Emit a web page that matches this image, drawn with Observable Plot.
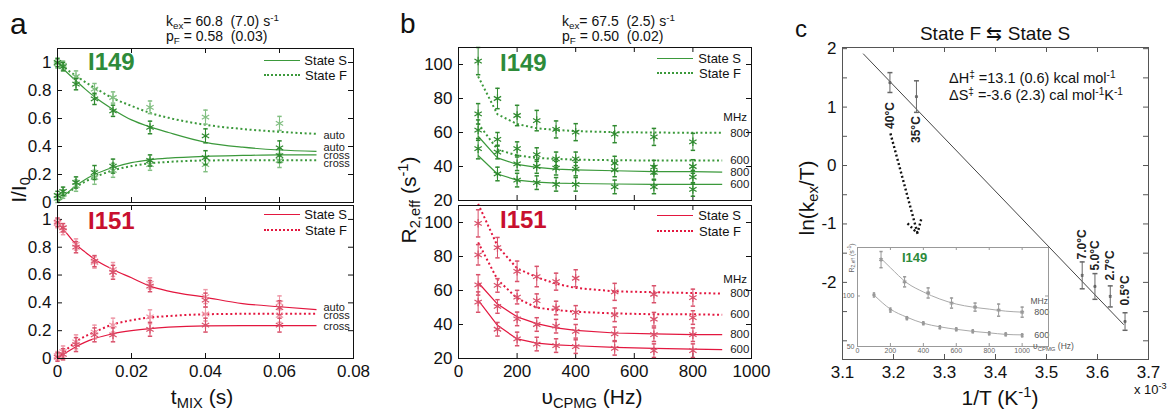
<!DOCTYPE html>
<html><head><meta charset="utf-8">
<script src="https://cdn.jsdelivr.net/npm/d3@7"></script>
<script src="https://cdn.jsdelivr.net/npm/@observablehq/plot@0.6"></script>
<style>
html,body{margin:0;padding:0;background:#fff;}
#root{position:relative;width:1174px;height:414px;overflow:hidden;font-family:"Liberation Sans",Arial,sans-serif;color:#111;background:#fff;}
#root svg{position:absolute;left:0;top:0;}
.t{position:absolute;white-space:nowrap;line-height:1;}
.t sub{font-size:0.7em;vertical-align:-0.3em;line-height:0;}
.t sup{font-size:0.7em;vertical-align:0.5em;line-height:0;}
.ln{position:absolute;height:0;}
</style></head><body><div id="root"></div>
<script>
// ---------------- DATA ----------------
// Panel a: mixing times (s)
const tMix = [0, 0.0015, 0.005, 0.01, 0.015, 0.025, 0.04, 0.06];
const i149AutoS  = [1.00, 0.97, 0.845, 0.74, 0.655, 0.536, 0.476, 0.39];
const i149AutoF  = [0.99, 0.98, 0.90, 0.81, 0.75, 0.68, 0.61, 0.565];
const i149CrossS = [0.05, 0.08, 0.143, 0.214, 0.26, 0.30, 0.32, 0.335];
const i149CrossF = [0.03, 0.06, 0.12, 0.18, 0.23, 0.27, 0.27, 0.30];
const i149ErrAuto  = [0.03, 0.03, 0.04, 0.04, 0.04, 0.045, 0.05, 0.05];
const i149ErrCross = [0.03, 0.03, 0.04, 0.05, 0.05, 0.04, 0.05, 0.05];
const i151AutoS  = [0.98, 0.94, 0.80, 0.70, 0.62, 0.52, 0.42, 0.365];
const i151AutoF  = [0.97, 0.92, 0.82, 0.69, 0.64, 0.54, 0.445, 0.40];
const i151CrossS = [0.01, 0.03, 0.10, 0.17, 0.17, 0.21, 0.24, 0.24];
const i151CrossF = [0.02, 0.05, 0.12, 0.19, 0.24, 0.30, 0.32, 0.31];
const i151ErrAuto  = [0.03, 0.03, 0.04, 0.04, 0.05, 0.04, 0.05, 0.05];
const i151ErrCross = [0.03, 0.04, 0.05, 0.05, 0.05, 0.05, 0.05, 0.05];
// Panel a: fitted curves
const tFit = [0, 0.0025, 0.005, 0.0075, 0.01, 0.015, 0.02, 0.025, 0.03, 0.04, 0.05, 0.06, 0.07];
const i149AutoSFit  = [1.00, 0.93, 0.87, 0.81, 0.755, 0.665, 0.59, 0.54, 0.50, 0.43, 0.395, 0.375, 0.365];
const i149AutoFFit  = [1.00, 0.95, 0.905, 0.86, 0.82, 0.745, 0.69, 0.64, 0.605, 0.555, 0.525, 0.505, 0.49];
const i149CrossSFit = [0, 0.065, 0.12, 0.165, 0.20, 0.25, 0.285, 0.305, 0.317, 0.33, 0.336, 0.34, 0.34];
const i149CrossFFit = [0, 0.06, 0.11, 0.15, 0.18, 0.23, 0.26, 0.28, 0.29, 0.30, 0.302, 0.302, 0.302];
const i151AutoSFit  = [0.98, 0.90, 0.82, 0.765, 0.714, 0.64, 0.58, 0.52, 0.485, 0.44, 0.395, 0.372, 0.352];
const i151CrossFFit = [0, 0.065, 0.12, 0.16, 0.19, 0.245, 0.275, 0.295, 0.305, 0.318, 0.321, 0.321, 0.321];
const i151CrossSFit = [0, 0.045, 0.085, 0.118, 0.143, 0.178, 0.20, 0.215, 0.225, 0.235, 0.237, 0.237, 0.236];
const aCurveLabels149 = [
  {text: "auto", y: 0.48}, {text: "auto", y: 0.39}, {text: "cross", y: 0.335}, {text: "cross", y: 0.28}
];
const aCurveLabels151 = [
  {text: "auto", y: 0.366}, {text: "cross", y: 0.307}, {text: "cross", y: 0.23}
];

// Panel b: CPMG frequencies (Hz)
const vCpmg = [67, 133, 200, 267, 333, 400, 533, 667, 800];
const vFit  = [67, 133, 200, 267, 333, 400, 533, 667, 800, 900];
const i149F800 = [102, 80, 70, 67, 61.8, 60.2, 59, 57.4, 54.5];
const i149F600 = [71, 56, 50.5, 47, 44.5, 44.5, 42, 39.6, 40];
const i149S800 = [61.4, 48.5, 41.6, 40, 39, 38.5, 38, 36.5, 33.7];
const i149S600 = [50.5, 35.6, 32, 30.5, 29.5, 29.5, 28, 28, 26.5];
const i149F800Fit = [93, 70.7, 65, 62.5, 61.5, 60.8, 60.2, 60, 59.8, 59.8];
const i149F600Fit = [65.3, 50, 46.5, 45, 44.5, 44, 43.7, 43.5, 43.5, 43.5];
const i149S800Fit = [57.8, 45.1, 41.2, 39.5, 38.5, 38, 37.5, 37, 37, 36.7];
const i149S600Fit = [46.5, 35.6, 32, 30.8, 30.2, 30, 29.7, 29.5, 29.5, 29.5];
const i151F800 = [99.5, 85.2, 71.3, 68.2, 65.2, 67.2, 59.2, 57.8, 55.8];
const i151F600 = [81, 63, 56.1, 54, 49.7, 47.1, 45.7, 43.1, 44.1];
const i151S800 = [63.3, 50.6, 43.3, 40, 39, 36, 34.5, 34, 34];
const i151S600 = [53.2, 37.2, 31.5, 28.5, 27.6, 27, 26, 24.6, 24.6];
const i151F800Fit = [111, 86.2, 73, 67.8, 64, 61.5, 59.5, 59, 58.5, 58.2];
const i151F600Fit = [88.3, 66.4, 55.4, 49.9, 48.5, 47.5, 46.5, 46, 46, 45.7];
const i151S800Fit = [64.7, 52, 44.5, 40.5, 38, 36.5, 35, 34.5, 34, 34];
const i151S600Fit = [54.4, 39.5, 31.5, 29, 28, 27.5, 26.5, 26, 25.5, 25.2];
const errF = [8, 6, 6, 6, 5, 5, 5, 5, 5];
const errS = [6, 4, 4, 4, 4, 4, 4, 4, 4];
const fieldLabels = ["800", "600", "800", "600"];

// Panel c: Eyring plot
const invT = [3.193, 3.245, 3.570, 3.595, 3.625, 3.654];      // x 10^-3 K^-1
const lnKexT = [1.42, 1.18, -1.88, -2.07, -2.24, -2.67];
const lnKexTErr = [0.17, 0.27, 0.23, 0.22, 0.18, 0.15];
const tempLabels = ["40°C", "35°C", "7.0°C", "5.0°C", "2.7°C", "0.5°C"];
const eyringFitX = [3.141, 3.651];
const eyringFitY = [1.91, -2.72];
const arrowFrom = [3.194, 0.55];
const arrowTo = [3.247, -1.16];
// Inset (I149 R2,eff at 40°C)
const insetV800 = [143, 286, 429, 571, 714, 857, 1000];
const insetR800 = [136, 114, 103, 93, 89, 86, 84];
const insetE800 = [8, 5, 5, 5, 4, 6, 5];
const insetV600 = [100, 200, 300, 400, 500, 600, 700, 800, 900, 1000];
const insetR600 = [101, 86, 78, 73, 69, 67, 65, 63, 62, 61];
const insetE600 = [2, 2, 1.5, 1.5, 1.5, 1.5, 1.5, 1.5, 1.5, 1.5];
const insetFit800V = [150, 200, 300, 400, 500, 600, 700, 800, 900, 1000];
const insetFit800 = [136, 128, 113, 104, 97, 92, 89, 87, 85, 84];
const insetFit600V = [100, 200, 300, 400, 500, 600, 700, 800, 900, 1000];
const insetFit600 = [101, 87, 79, 73, 69.5, 67, 65, 63.5, 62, 61.5];

// ---------------- STYLE ----------------
const FONT = '"Liberation Sans", Arial, sans-serif';
const G_LINE = "#3b993b", G_PT_S = "#2f8a2f", G_PT_F = "#82bf82", G_LAB = "#2e8b3a";
const R_LINE = "#e3173f", R_PT_S = "#d9506a", R_PT_F = "#ee97a6", R_LAB = "#c8102e";
const DOTS = "2,2.6";
const root = document.getElementById("root");

const capSymbol = {draw(ctx, size) { const r = Math.sqrt(size / Math.PI); ctx.moveTo(-r, 0); ctx.lineTo(r, 0); }};
const zip = (xs, ys, es) => xs.map((x, i) => ({x, y: ys[i], e: es ? es[i] : 0}));

function fit(xs, ys, color, dashed, curve, w) {
  return Plot.line(zip(xs, ys), {x: "x", y: "y", stroke: color, strokeWidth: dashed ? (w || 2) : (w || 1.2),
    strokeDasharray: dashed ? DOTS : null, strokeLinecap: "butt", curve: curve || "monotone-x"});
}
function pts(xs, ys, es, color, r, cap) {
  const d = zip(xs, ys, es);
  return [
    Plot.ruleX(d, {x: "x", y1: q => q.y - q.e, y2: q => q.y + q.e, stroke: color, strokeWidth: 1}),
    Plot.dot(d, {x: "x", y: q => q.y - q.e, symbol: capSymbol, r: cap || 2.2, fill: "none", stroke: color}),
    Plot.dot(d, {x: "x", y: q => q.y + q.e, symbol: capSymbol, r: cap || 2.2, fill: "none", stroke: color}),
    Plot.dot(d, {x: "x", y: "y", symbol: "asterisk", r: r || 4, fill: "none", stroke: color, strokeWidth: 1.2})
  ];
}

function panel(o) {
  const [L, T, R, B] = o.frame;
  const W = 1174, H = 414, fw = R - L, fh = B - T, tk = o.tick || 5;
  const col = o.axisColor || "#111";
  const xt = o.xMarks || o.xTicks, yt = o.yMarks || o.yTicks;
  const svg = Plot.plot({
    width: W, height: H,
    marginLeft: L, marginTop: T, marginRight: W - R, marginBottom: H - B,
    style: {background: "transparent", fontFamily: FONT, fontSize: (o.fontSize || 17) + "px", color: o.labelColor || "#111", overflow: "visible"},
    x: {domain: o.xDomain, ticks: o.xTicks, tickFormat: d => String(d), tickSize: 0, tickPadding: o.xPad ?? 6, label: null, axis: o.xLabels ? "bottom" : null},
    y: {domain: o.yDomain, ticks: o.yTicks, tickFormat: d => String(d), tickSize: 0, tickPadding: o.yPad ?? 6, label: null, axis: o.yLabels ? "left" : null},
    marks: [
      ...(o.bg ? [Plot.frame({fill: o.bg, stroke: null})] : []),
      Plot.tickX(xt, {x: d => d, insetTop: fh - tk, stroke: col}),
      Plot.tickX(xt, {x: d => d, insetBottom: fh - tk, stroke: col}),
      Plot.tickY(yt, {y: d => d, insetRight: fw - tk, stroke: col}),
      Plot.tickY(yt, {y: d => d, insetLeft: fw - tk, stroke: col}),
      ...o.marks,
      Plot.frame({stroke: col, strokeWidth: o.frameWidth || 1})
    ]
  });
  root.appendChild(svg);
}

function T(html, x, y, o = {}) {
  const d = document.createElement("div");
  d.className = "t";
  d.innerHTML = html;
  d.style.left = x + "px"; d.style.top = y + "px";
  d.style.fontSize = (o.size || 14) + "px";
  if (o.weight) d.style.fontWeight = o.weight;
  if (o.color) d.style.color = o.color;
  const ax = o.anchor === "c" ? "-50%" : o.anchor === "r" ? "-100%" : "0";
  d.style.transform = `translate(${ax},-50%)` + (o.rot ? ` rotate(${o.rot}deg)` : "");
  if (o.rot) d.style.transformOrigin = "50% 50%";
  root.appendChild(d);
}
function legendLine(x1, x2, y, color, dashed) {
  const d = document.createElement("div");
  d.className = "ln";
  d.style.left = x1 + "px"; d.style.top = y + "px"; d.style.width = (x2 - x1) + "px";
  d.style.borderTop = dashed ? `2px dotted ${color}` : `1.2px solid ${color}`;
  root.appendChild(d);
}

// ---------------- PANEL a ----------------
const aX = {xDomain: [0, 0.08], xTicks: [0, 0.02, 0.04, 0.06, 0.08], yDomain: [0, 1.1], yTicks: [0, 0.2, 0.4, 0.6, 0.8, 1]};
panel({...aX, frame: [57, 48, 353, 202], yLabels: true, xLabels: false, marks: [
  fit(tFit, i149AutoFFit, G_LINE, true), fit(tFit, i149CrossFFit, G_LINE, true),
  fit(tFit, i149AutoSFit, G_LINE, false), fit(tFit, i149CrossSFit, G_LINE, false),
  ...pts(tMix, i149AutoF, i149ErrAuto, G_PT_F), ...pts(tMix, i149CrossF, i149ErrCross, G_PT_F),
  ...pts(tMix, i149AutoS, i149ErrAuto, G_PT_S), ...pts(tMix, i149CrossS, i149ErrCross, G_PT_S),
  Plot.text(aCurveLabels149, {x: tFit[tFit.length - 1], y: "y", text: "text", dx: 7, textAnchor: "start", fontSize: 11, fill: "#222", lineHeight: 1})
]});
panel({...aX, frame: [57, 205, 353, 358], yLabels: true, xLabels: true, marks: [
  fit(tFit, i151CrossFFit, R_LINE, true),
  fit(tFit, i151AutoSFit, R_LINE, false), fit(tFit, i151CrossSFit, R_LINE, false),
  ...pts(tMix, i151AutoF, i151ErrAuto, R_PT_F), ...pts(tMix, i151CrossF, i151ErrCross, R_PT_F),
  ...pts(tMix, i151AutoS, i151ErrAuto, R_PT_S), ...pts(tMix, i151CrossS, i151ErrCross, R_PT_S),
  Plot.text(aCurveLabels151, {x: tFit[tFit.length - 1], y: "y", text: "text", dx: 7, textAnchor: "start", fontSize: 11, fill: "#222"})
]});

// ---------------- PANEL b ----------------
const bX = {xDomain: [0, 1000], xTicks: [0, 200, 400, 600, 800, 1000], yDomain: [20, 110], yTicks: [20, 40, 60, 80, 100]};
function bLabels(fits) {
  const d = fits.map((f, i) => ({y: f[f.length - 1], text: fieldLabels[i]}));
  return Plot.text(d, {x: vFit[vFit.length - 1], y: "y", text: "text", dx: 8, textAnchor: "start", fontSize: 11.5, fill: "#222"});
}
panel({...bX, frame: [458, 47, 751, 200], yLabels: true, xLabels: false, marks: [
  fit(vFit, i149F800Fit, G_LINE, true, "linear"), fit(vFit, i149F600Fit, G_LINE, true, "linear"),
  fit(vFit, i149S800Fit, G_LINE, false, "linear"), fit(vFit, i149S600Fit, G_LINE, false, "linear"),
  ...pts(vCpmg, i149F800, errF, G_PT_S), ...pts(vCpmg, i149F600, errS, G_PT_S),
  ...pts(vCpmg, i149S800, errS, G_PT_S), ...pts(vCpmg, i149S600, errS, G_PT_S),
  bLabels([i149F800Fit, i149F600Fit, i149S800Fit, i149S600Fit])
]});
panel({...bX, frame: [458, 205, 751, 358], yLabels: true, xLabels: true, marks: [
  fit(vFit, i151F800Fit, R_LINE, true, "linear"), fit(vFit, i151F600Fit, R_LINE, true, "linear"),
  fit(vFit, i151S800Fit, R_LINE, false, "linear"), fit(vFit, i151S600Fit, R_LINE, false, "linear"),
  ...pts(vCpmg, i151F800, errF, R_PT_S), ...pts(vCpmg, i151F600, errS, R_PT_S),
  ...pts(vCpmg, i151S800, errS, R_PT_S), ...pts(vCpmg, i151S600, errS, R_PT_S),
  bLabels([i151F800Fit, i151F600Fit, i151S800Fit, i151S600Fit])
]});

// ---------------- PANEL c ----------------
const eyr = zip(invT, lnKexT, lnKexTErr).map((d, i) => ({...d, label: tempLabels[i]}));
panel({frame: [842, 47, 1148, 359], xDomain: [3.1, 3.7], xTicks: [3.1, 3.2, 3.3, 3.4, 3.5, 3.6, 3.7],
  yDomain: [-3.32, 2.02], yTicks: [-2, -1, 0, 1, 2], yMarks: [-3, -2.5, -2, -1.5, -1, -0.5, 0, 0.5, 1, 1.5, 2],
  xLabels: true, yLabels: true, axisColor: "#555", labelColor: "#111", marks: [
  Plot.line(zip(eyringFitX, eyringFitY), {x: "x", y: "y", stroke: "#444", strokeWidth: 1}),
  ...pts(invT, lnKexT, lnKexTErr, "#666", 1.5, 2.5),
  Plot.text(eyr, {filter: d => d.y > 0, x: "x", y: "y", text: "label", rotate: -90, dy: 33, fontSize: 12, fontWeight: "bold", fill: "#222"}),
  Plot.text(eyr, {filter: d => d.y < 0, x: "x", y: "y", text: "label", rotate: -90, dy: -31, fontSize: 12, fontWeight: "bold", fill: "#222"}),
  Plot.arrow([{a: arrowFrom, b: arrowTo}], {x1: d => d.a[0], y1: d => d.a[1], x2: d => d.b[0], y2: d => d.b[1],
    stroke: "#111", strokeWidth: 2.4, strokeDasharray: "2,2.4", strokeLinecap: "butt", headLength: 9})
]});
// inset
panel({frame: [857, 247, 1048, 346], xDomain: [0, 1160], xTicks: [0, 200, 400, 600, 800, 1000],
  yDomain: [50, 148], yTicks: [50, 100], xLabels: true, yLabels: true, fontSize: 7, xPad: 2, yPad: 3, tick: 3,
  axisColor: "#999", labelColor: "#666", bg: "white", marks: [
  fit(insetFit800V, insetFit800, "#aaa", false, "monotone-x", 1),
  fit(insetFit600V, insetFit600, "#aaa", false, "monotone-x", 1),
  ...pts(insetV800, insetR800, insetE800, "#999", 2, 1.6),
  ...pts(insetV600, insetR600, insetE600, "#999", 1.6, 1.2),
  Plot.text([{y: insetFit800[insetFit800.length - 1], t: "800"}, {y: insetFit600[insetFit600.length - 1], t: "600"}],
    {x: 1000, y: "y", text: "t", dx: 12, textAnchor: "start", fontSize: 9, fill: "#555"})
]});

// ---------------- TEXT OVERLAYS ----------------
T("a", 10, 24, {size: 30});
T("b", 400, 24, {size: 28});
T("c", 795, 29, {size: 24});
T("k<sub>ex</sub>= 60.8&nbsp; (7.0) s<sup>-1</sup>", 166, 21, {size: 14});
T("p<sub>F</sub> = 0.58&nbsp; (0.03)", 166, 36, {size: 14});
T("k<sub>ex</sub>= 67.5&nbsp; (2.5) s<sup>-1</sup>", 562, 21, {size: 14});
T("p<sub>F</sub> = 0.50&nbsp; (0.02)", 562, 36, {size: 14});
T("State F &#8646; State S", 995, 33, {size: 19, anchor: "c"});
T("&Delta;H<sup>&#8225;</sup> =13.1 (0.6) kcal mol<sup>-1</sup>", 949, 78, {size: 14.5});
T("&Delta;S<sup>&#8225;</sup> =-3.6 (2.3) cal mol<sup>-1</sup>K<sup>-1</sup>", 949, 95, {size: 14.5});

T("I149", 88, 62, {size: 24, weight: "bold", color: G_LAB});
T("I151", 88, 221, {size: 24, weight: "bold", color: R_LAB});
T("I149", 500, 63, {size: 24, weight: "bold", color: G_LAB});
T("I151", 500, 220, {size: 24, weight: "bold", color: R_LAB});
T("I149", 902, 257, {size: 13, weight: "bold", color: G_LAB});

// legends
[[60, 75, G_LINE, 347, 300], [214, 230, R_LINE, 347, 300], [58, 73, G_LINE, 741, 693], [215, 231, R_LINE, 741, 693]].forEach(([yS, yF, c, xr, xl]) => {
  legendLine(xl - 36, xl, yS, c, false);
  legendLine(xl - 36, xl, yF - 1, c, true);
  T("State S", xr, yS, {size: 13, anchor: "r"});
  T("State F", xr, yF, {size: 13, anchor: "r"});
});
T("MHz", 747, 118, {size: 11.5, anchor: "r"});
T("MHz", 747, 280, {size: 11.5, anchor: "r"});
T("MHz", 1048, 301, {size: 8.5, anchor: "r", color: "#555"});

// axis titles
T("I/I<sub>0</sub>", 18, 190, {size: 21, anchor: "c", rot: -90});
T("R<sub>2,eff</sub> (s<sup>-1</sup>)", 408, 200, {size: 21, anchor: "c", rot: -90});
T("ln(k<sub>ex</sub>/T)", 806, 198, {size: 21, anchor: "c", rot: -90});
T("t<sub>MIX</sub> (s)", 202, 396, {size: 21, anchor: "c"});
T("&upsilon;<sub>CPMG</sub> (Hz)", 592, 396, {size: 21, anchor: "c"});
T("1/T (K<sup>-1</sup>)", 1000, 397, {size: 21, anchor: "c"});
T("x 10<sup>-3</sup>", 1134, 389, {size: 13});
T("R<sub>2,eff</sub> (s<sup>-1</sup>)", 851, 258, {size: 7, anchor: "c", rot: -90, color: "#666"});
T("&upsilon;<sub>CPMG</sub> (Hz)", 1033, 346, {size: 8.5, color: "#555"});
</script></body></html>
